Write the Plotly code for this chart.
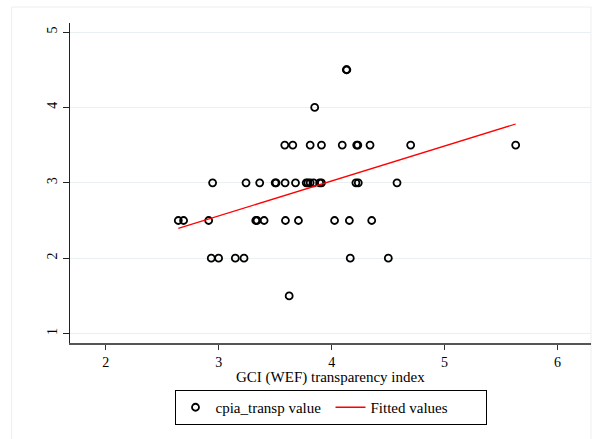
import numpy as np
import plotly.graph_objects as go

# GCI (WEF) transparency index values, grouped by CPIA transparency score
gci_45 = [4.13, 4.135]
gci_40 = [3.85]
gci_35 = [3.585, 3.656, 3.81, 3.91, 4.094, 4.222, 4.232, 4.34, 4.70, 5.63]
gci_30 = [2.946, 3.242, 3.363, 3.50, 3.508, 3.588, 3.68, 3.775, 3.79, 3.81,
          3.84, 3.894, 3.91, 4.215, 4.236, 4.579]
gci_25 = [2.642, 2.689, 2.911, 3.328, 3.34, 3.402, 3.591, 3.706, 4.026, 4.157, 4.355]
gci_20 = [2.934, 2.999, 3.147, 3.224, 4.165, 4.502]
gci_15 = [3.624]

groups = [(4.5, gci_45), (4.0, gci_40), (3.5, gci_35), (3.0, gci_30),
          (2.5, gci_25), (2.0, gci_20), (1.5, gci_15)]
x = []
y = []
for score, vals in groups:
    x.extend(vals)
    y.extend([score] * len(vals))
x = np.array(x)
y = np.array(y)

x_ticks = [2, 3, 4, 5, 6]
y_ticks = [1, 2, 3, 4, 5]
x_title = "GCI (WEF) transparency index"

slope, intercept = np.polyfit(x, y, 1)
fit_x = np.sort(x)
fit_y = intercept + slope * fit_x

FONT = "Liberation Serif, Times New Roman, serif"

fig = go.Figure()
fig.add_trace(go.Scatter(
    x=x, y=y, mode="markers", name="cpia_transp value",
    marker=dict(symbol="circle-open", size=7, color="black",
                line=dict(width=1.8, color="black")),
))
fig.add_trace(go.Scatter(
    x=fit_x, y=fit_y, mode="lines", name="Fitted values",
    line=dict(color="#ff0000", width=1.3),
))

fig.update_layout(
    width=593, height=439,
    margin=dict(l=70, r=2, t=23, b=96),
    paper_bgcolor="white", plot_bgcolor="white",
    font=dict(family=FONT, size=15, color="black"),
    showlegend=True,
    legend=dict(
        orientation="h", xref="paper", x=0.5, xanchor="center",
        yref="container", y=1 - 390 / 439, yanchor="top",
        bordercolor="black", borderwidth=1, bgcolor="white",
        font=dict(family=FONT, size=15, color="black"),
        itemwidth=30, tracegroupgap=0, entrywidth=110,
    ),
    xaxis=dict(
        range=[1.683, 6.297], tickvals=x_ticks, ticktext=[str(t) for t in x_ticks],
        showgrid=False, zeroline=False,
        showline=True, linecolor="#555555", linewidth=1.5,
        ticks="outside", ticklen=5, tickcolor="#333333", tickwidth=1,
        tickfont=dict(family=FONT, size=14),
    ),
    yaxis=dict(
        range=[0.875, 5.12], tickvals=y_ticks, ticktext=[str(t) for t in y_ticks],
        showgrid=True, gridcolor="#e8f0f1", gridwidth=1, zeroline=False,
        showline=True, linecolor="#222222", linewidth=1.3,
        ticks="outside", ticklen=6, tickcolor="#222222", tickwidth=1,
        tickangle=-90, tickfont=dict(family=FONT, size=14),
    ),
    annotations=[dict(text=x_title, xref="paper", yref="paper",
                      x=0.5, y=(342.7 - 377) / 320, xanchor="center",
                      yanchor="middle", showarrow=False,
                      font=dict(family=FONT, size=15, color="black"))],
    shapes=[dict(type="rect", xref="paper", yref="paper",
                 x0=-0.112, x1=1.0, y0=-0.5, y1=1.05,
                 line=dict(color="#eeeeee", width=1), layer="below")],
)

fig.write_html("out.html")
